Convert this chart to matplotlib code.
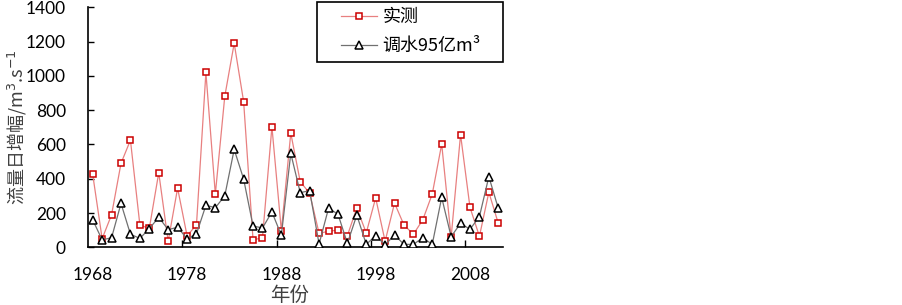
import matplotlib
matplotlib.use("Agg")
import matplotlib.pyplot as plt
from matplotlib.patches import Rectangle
import numpy as np

years = list(range(1968, 2012))
observed = [425, 50, 190, 490, 625, 130, 110, 435, 35, 345, 68, 130, 1020, 310, 880, 1190,
            850, 43, 56, 703, 97, 666, 383, 315, 82, 93, 101, 68, 229, 84, 288, 35, 258, 130,
            76, 161, 311, 602, 58, 657, 233, 64, 321, 140]
diverted = [160, 43, 56, 256, 76, 52, 109, 175, 103, 117, 50, 78, 245, 231, 300, 571,
            398, 124, 113, 206, 70, 548, 319, 330, 19, 227, 194, 23, 188, 17, 68, 14, 72, 17,
            17, 56, 17, 291, 62, 140, 105, 179, 412, 227]
xtick_years = [1968, 1978, 1988, 1998, 2008]
yticks = [0, 200, 400, 600, 800, 1000, 1200, 1400]

plt.rcParams['font.family'] = ['Lato', 'Noto Sans CJK SC', 'DejaVu Sans']

W, H = 903, 305
fig = plt.figure(figsize=(9.03, 3.05), dpi=100)
ax = fig.add_axes([88/W, 1-247.3/H, (503-88)/W, (247.3-7.3)/H])

x = np.arange(len(years))
ax.plot(x, observed, color='#E88080', lw=0.9, marker='s', markersize=4.2,
        markerfacecolor='white', markeredgecolor='#CC0000', markeredgewidth=1.1, label='实测', zorder=3)
ax.plot(x, diverted, color='#707070', lw=0.9, marker='^', markersize=5.5,
        markerfacecolor='white', markeredgecolor='black', markeredgewidth=1.1, label='调水95亿m³', zorder=4)

ax.set_xlim(-0.5, len(years) - 0.5)
ax.set_ylim(0, 1400)
ax.set_yticks(yticks)
ax.set_yticklabels([str(v) for v in yticks])
ax.set_xticks([years.index(y) for y in xtick_years])
ax.set_xticklabels([str(y) for y in xtick_years])
ax.set_xticks([i - 0.5 for i in range(10, len(years), 10)], minor=True)
ax.tick_params(axis='x', which='major', length=0, pad=14, labelsize=12.5)
ax.tick_params(axis='x', which='minor', length=5, direction='in', width=1)
ax.tick_params(axis='y', which='major', length=4, direction='in', width=1, pad=16, labelsize=12.5)

for s in ['top', 'right']:
    ax.spines[s].set_visible(False)
for s in ['left', 'bottom']:
    ax.spines[s].set_linewidth(1.2)

ax.set_ylabel('流量日增幅/m$^{3}$.s$^{-1}$', fontsize=13, color='#404040',
              family=['Noto Sans CJK SC', 'DejaVu Sans'])
ax.yaxis.set_label_coords((29-88)/415, 0.5)
ax.set_xlabel('年份', fontsize=14, color='#404040', family=['Noto Sans CJK SC'])
ax.xaxis.set_label_coords((290-88)/415, (247.3-285)/240)

# legend frame
fig.patches.append(Rectangle((317/W, 1-61.7/H), (503-317)/W, 60/H, transform=fig.transFigure,
                             facecolor='white', edgecolor='black', lw=1.2, zorder=5))
leg = fig.legend(loc='center', bbox_to_anchor=(411/W, 1-31.5/H), frameon=False,
                 handlelength=2.0, handletextpad=0.3, labelspacing=0.6, borderpad=0,
                 prop={'family': ['Noto Sans CJK SC', 'DejaVu Sans'], 'size': 13})
leg.set_zorder(6)

fig.savefig('out.png', dpi=100)
